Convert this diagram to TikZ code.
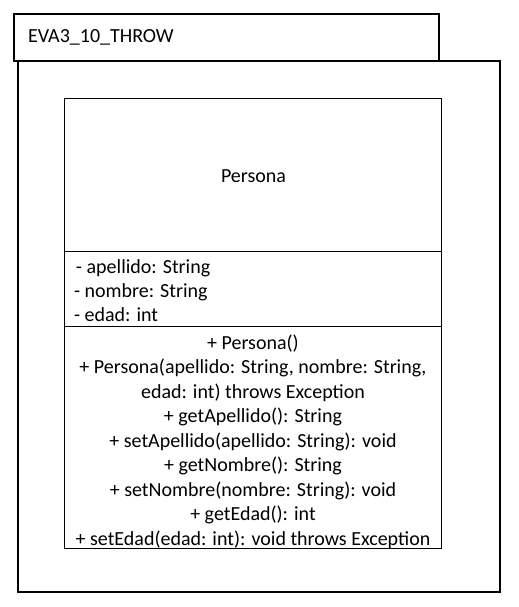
\documentclass[tikz,border=0pt]{standalone}
\usepackage{fontspec}
\setmainfont{Carlito}
\usetikzlibrary{positioning}

\begin{document}
\begin{tikzpicture}[
  x=0.75pt, y=-0.75pt,
  every node/.style={font=\fontsize{15}{18.4}\selectfont, inner sep=0pt, outer sep=0pt},
  frame/.style={draw, line width=1.5pt, anchor=north west},
  classbox/.style={draw, line width=0.75pt, anchor=north west},
  sepline/.style={line width=0.75pt}
]
\useasboundingbox (0,0) rectangle (518,607);

% package frame
\node[frame, minimum width=318.75pt, minimum height=35.25pt] (tab) at (14,14) {};
\node[frame, minimum width=361.5pt, minimum height=398.25pt] (pkg) at (18,61) {};
\node[anchor=base west] (pkgname) at (28,42) {EVA3\_10\_THROW};

% class Persona
\node[classbox, minimum width=282.75pt, minimum height=337.5pt] (persona) at (64,98) {};
\coordinate (sep1) at (64,251);
\coordinate (sep2) at (64,326);
\draw[sepline] (sep1) -- (sep1 -| persona.east);
\draw[sepline] (sep2) -- (sep2 -| persona.east);

\node[anchor=base] (cname) at (253.5,182.5) {Persona};
\node[anchor=north west, align=left, font=\fontsize{15}{18}\selectfont] (attrs) at (74,260)
  {\hspace{1.5pt}- apellido: String\\- nombre: String\\- edad: int};
\node[anchor=north, align=center] (methods) at (253,334.5)
  {+ Persona()\\
   + Persona(apellido: String, nombre: String,\\
   edad: int) throws Exception\\
   + getApellido(): String\\
   + setApellido(apellido: String): void\\
   + getNombre(): String\\
   + setNombre(nombre: String): void\\
   + getEdad(): int\\
   + setEdad(edad: int): void throws Exception};
\end{tikzpicture}
\end{document}
